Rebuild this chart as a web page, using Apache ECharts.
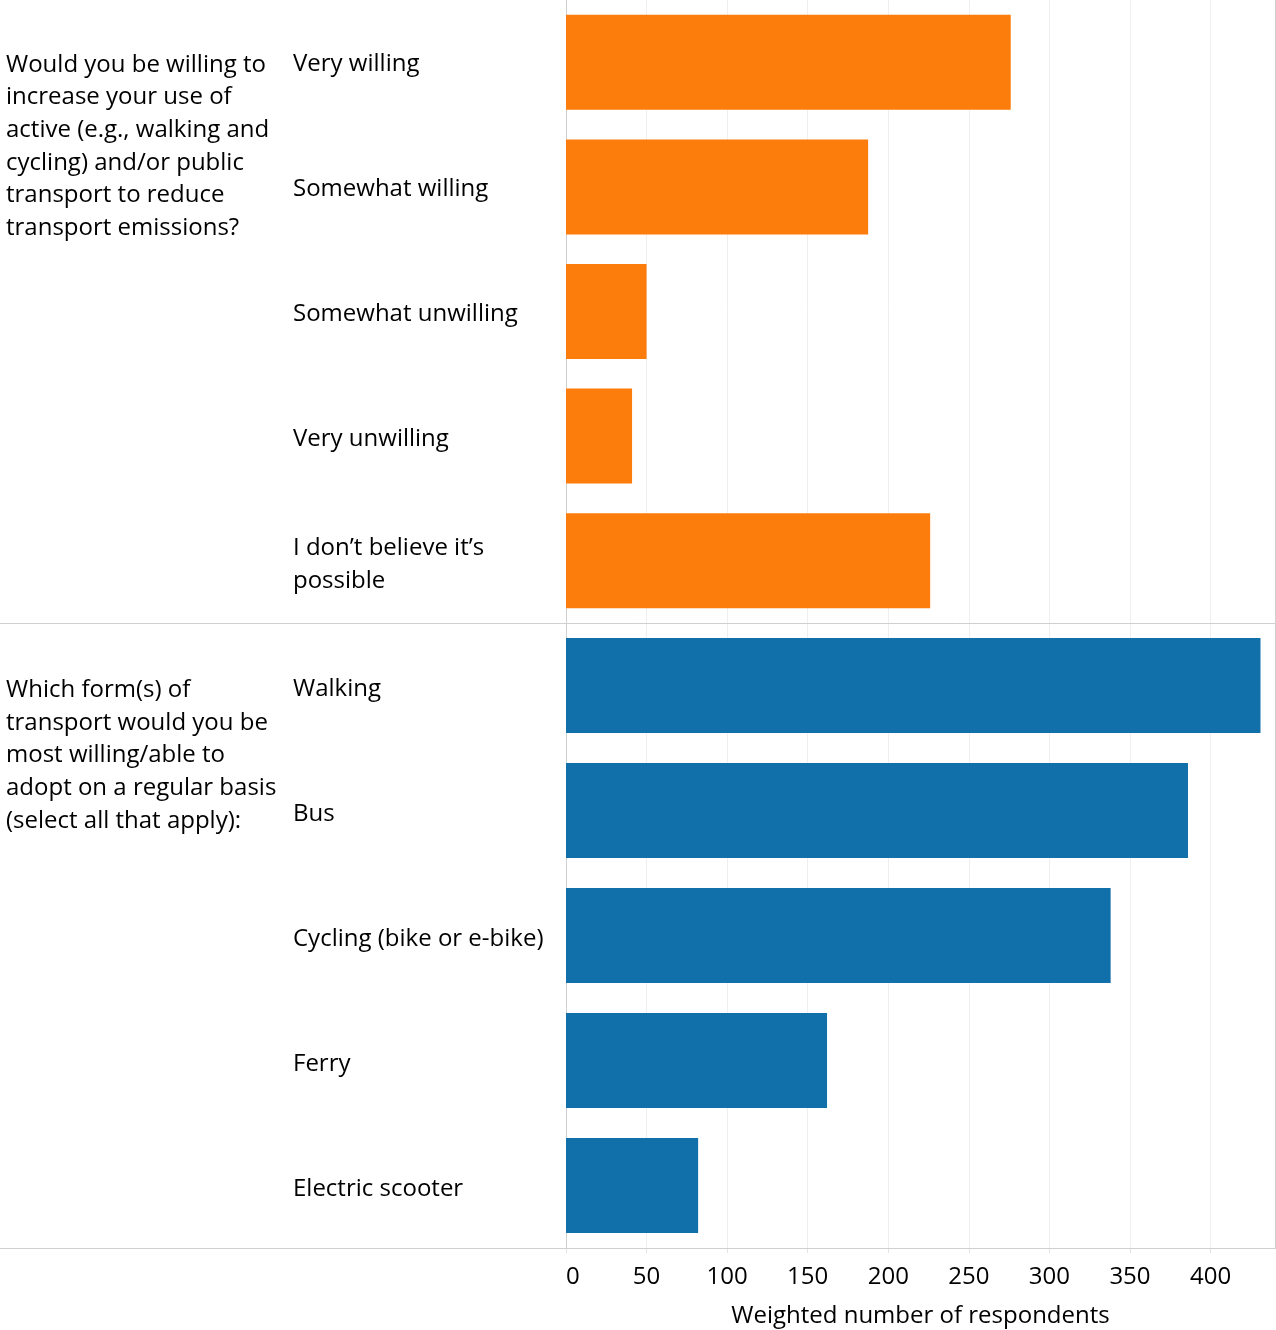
<!DOCTYPE html>
<html>
<head>
<meta charset="utf-8">
<script src="https://cdn.jsdelivr.net/npm/echarts@6/dist/echarts.min.js"></script>
<style>
html,body{margin:0;padding:0;background:#fff;}
#chart{width:1276px;height:1330px;}
</style>
</head>
<body>
<div id="chart"></div>
<script>
// ---- Data ----
const questions = [
  'Would you be willing to\nincrease your use of\nactive (e.g., walking and\ncycling) and/or public\ntransport to reduce\ntransport emissions?',
  'Which form(s) of\ntransport would you be\nmost willing/able to\nadopt on a regular basis\n(select all that apply):'
];
const willingCategories = ['Very willing', 'Somewhat willing', 'Somewhat unwilling', 'Very unwilling', 'I don\u2019t believe it\u2019s possible'];
const willingValues = [276, 187.5, 50, 41, 226];
const modeCategories = ['Walking', 'Bus', 'Cycling (bike or e-bike)', 'Ferry', 'Electric scooter'];
const modeValues = [431, 386, 338, 162, 82];
const xTickValues = [0, 50, 100, 150, 200, 250, 300, 350, 400];
const xAxisName = 'Weighted number of respondents';

// ---- Layout / style ----
const FONT = '"Open Sans", "Noto Sans", sans-serif';
const FS = 24;
const LH = 32.7;
const LEFT = 566, RIGHT_X = 1275;
const TOP1 = 0, H1 = 623, TOP2 = 623, H2 = 625;
const LBL_TOP1 = 2, LBL_TOP2 = 627, LBL_H = 625;
const ORANGE = '#fc7d0b', BLUE = '#1170aa';
const LINE = '#d0d0d0', GRID = '#efefef';

const chart = echarts.init(document.getElementById('chart'), null, {renderer: 'canvas'});

function yAxisFor(idx, cats, withLabels) {
  return {
    type: 'category', gridIndex: idx, data: cats, inverse: true,
    axisLine: {show: !withLabels, lineStyle: {color: LINE, width: 1}},
    axisTick: {show: false},
    splitLine: {show: false},
    axisLabel: {
      show: withLabels,
      margin: LEFT - 293, align: 'left', color: '#000',
      fontFamily: FONT, fontSize: FS, lineHeight: 33,
      width: 264, overflow: 'break'
    }
  };
}
function xAxisFor(idx, showLabels, hidden) {
  if (hidden) {
    return {type: 'value', gridIndex: idx, min: 0, max: 440, show: false};
  }
  return {
    type: 'value', gridIndex: idx, min: 0, max: 440, interval: 50,
    axisLine: {show: false},
    axisTick: {show: showLabels, length: 5, lineStyle: {color: '#e4e4e4'}},
    splitLine: {show: true, lineStyle: {color: GRID, width: 1}},
    axisLabel: {
      show: showLabels, color: '#000', fontFamily: FONT, fontSize: FS, margin: 17,
      showMaxLabel: false, alignMinLabel: 'left',
      formatter: v => (xTickValues.indexOf(v) >= 0 ? String(v) : '')
    },
    name: showLabels ? xAxisName : '',
    nameLocation: 'middle', nameGap: 56,
    nameTextStyle: {color: '#000', fontFamily: FONT, fontSize: FS}
  };
}

const band1 = H1 / willingCategories.length;
const band2 = H2 / modeCategories.length;

const option = {
  animation: false,
  backgroundColor: '#fff',
  grid: [
    {left: LEFT, top: TOP1, width: RIGHT_X - LEFT, height: H1},
    {left: LEFT, top: TOP2, width: RIGHT_X - LEFT, height: H2},
    // label-only grids (category labels sit slightly lower than bar centres in the reference)
    {left: LEFT, top: LBL_TOP1, width: RIGHT_X - LEFT, height: LBL_H},
    {left: LEFT, top: LBL_TOP2, width: RIGHT_X - LEFT, height: LBL_H}
  ],
  xAxis: [xAxisFor(0, false), xAxisFor(1, true), xAxisFor(2, false, true), xAxisFor(3, false, true)],
  yAxis: [
    yAxisFor(0, willingCategories, false), yAxisFor(1, modeCategories, false),
    yAxisFor(2, willingCategories, true), yAxisFor(3, modeCategories, true)
  ],
  series: [
    {type: 'bar', xAxisIndex: 0, yAxisIndex: 0, data: willingValues, barWidth: 95,
     itemStyle: {color: ORANGE}, silent: true},
    {type: 'bar', xAxisIndex: 1, yAxisIndex: 1, data: modeValues, barWidth: 95,
     itemStyle: {color: BLUE}, silent: true}
  ],
  graphic: [
    {type: 'text', left: 6, top: TOP1 + band1 / 2 - LH / 2 + 2.5,
     style: {text: questions[0], fill: '#000', font: FS + 'px ' + FONT, lineHeight: LH}},
    {type: 'text', left: 6, top: TOP2 + band2 / 2 - LH / 2 + 4.5,
     style: {text: questions[1], fill: '#000', font: FS + 'px ' + FONT, lineHeight: LH}},
    {type: 'line', shape: {x1: 0, y1: TOP2 + 0.5, x2: RIGHT_X, y2: TOP2 + 0.5},
     style: {stroke: LINE, lineWidth: 1}, z: 10},
    {type: 'line', shape: {x1: 0, y1: TOP2 + H2 + 0.5, x2: RIGHT_X + 1, y2: TOP2 + H2 + 0.5},
     style: {stroke: LINE, lineWidth: 1}, z: 10},
    {type: 'line', shape: {x1: RIGHT_X + 0.5, y1: 0, x2: RIGHT_X + 0.5, y2: TOP2 + H2},
     style: {stroke: LINE, lineWidth: 1}, z: 10}
  ]
};
chart.setOption(option);
</script>
</body>
</html>
